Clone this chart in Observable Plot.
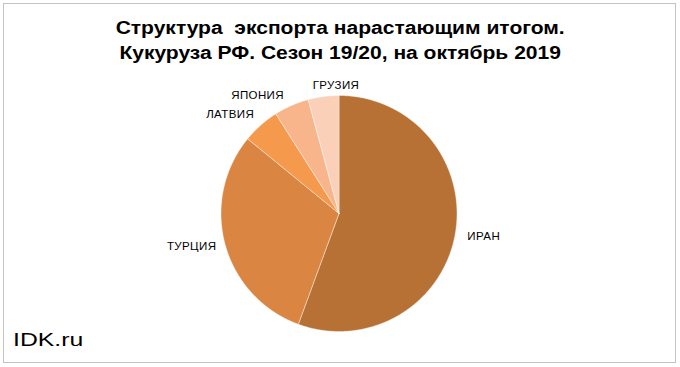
<!DOCTYPE html>
<html><head><meta charset="utf-8">
<script src="https://cdn.jsdelivr.net/npm/d3@7"></script>
<script src="https://cdn.jsdelivr.net/npm/@observablehq/plot@0.6"></script>
<style>
body{margin:0;background:#fff}
#frame{position:relative;width:680px;height:367px;overflow:hidden;font-family:"Liberation Sans",Arial,sans-serif;background:#fff}
#border{position:absolute;left:3px;top:3px;width:673px;height:360px;border:1.5px solid #c4c4c4;box-sizing:border-box}
#title{position:absolute;left:0;top:14.5px;width:680px;text-align:center;font-weight:bold;font-size:18.3px;line-height:25px;white-space:pre;color:#000;transform:scaleX(1.15);transform-origin:339px 0}
#chart{position:absolute;left:0;top:70px}
#brand{position:absolute;left:12.7px;top:331.4px;font-size:18.5px;line-height:18px;transform:scaleX(1.34);transform-origin:left top;color:#000}
</style>
</head><body>
<div id="frame">
  <div id="border"></div>
  <div id="title"></div>
  <div id="chart"></div>
  <div id="brand">IDK.ru</div>
</div>
<script>
const titleLines = ["Структура  экспорта нарастающим итогом.", "Кукуруза РФ. Сезон 19/20, на октябрь 2019"];
const countries = ["ИРАН", "ТУРЦИЯ", "ЛАТВИЯ", "ЯПОНИЯ", "ГРУЗИЯ"];
const shares = [55.6, 30.3, 5.1, 4.8, 4.2];
const colors = ["#B87134", "#DA8541", "#F5994C", "#F8B58C", "#FBD0B8"];

// layout (not data)
const R = 118;
const labelR = 147;
const labelNudge = {"ИРАН": [0, -2.5], "ТУРЦИЯ": [-5.6, -5.6], "ЛАТВИЯ": [-11.3, 10.6], "ЯПОНИЯ": [-22.2, 16.7], "ГРУЗИЯ": [16.3, 17.7]};

document.getElementById("title").textContent = titleLines.join("\n");

const total = d3.sum(shares);
const slices = [];
const labels = [];
let acc = 0;
countries.forEach((name, i) => {
  const a0 = acc / total * 2 * Math.PI;
  acc += shares[i];
  const a1 = acc / total * 2 * Math.PI;
  const n = Math.max(2, Math.ceil((a1 - a0) / (Math.PI / 360)));
  slices.push({name, x: 0, y: 0});
  for (let k = 0; k <= n; k++) {
    const a = a0 + (a1 - a0) * k / n;
    slices.push({name, x: R * Math.sin(a), y: R * Math.cos(a)});
  }
  slices.push({name, x: 0, y: 0});
  const am = (a0 + a1) / 2;
  const [nx, ny] = labelNudge[name];
  labels.push({name, x: labelR * Math.sin(am) + nx, y: labelR * Math.cos(am) - ny});
});

const plot = Plot.plot({
  width: 680,
  height: 290,
  margin: 0,
  x: {domain: [-338.5, 341.5], axis: null},
  y: {domain: [-147, 143], axis: null},
  color: {domain: countries, range: colors},
  style: {fontFamily: '"Liberation Sans", Arial, sans-serif', background: "transparent"},
  marks: [
    Plot.line(slices, {x: "x", y: "y", z: "name", fill: "name", stroke: "#ffffff", strokeWidth: 0.6, strokeOpacity: 0.7}),
    Plot.text(labels, {x: "x", y: "y", text: "name", fontSize: 11.5, fill: "#000"})
  ]
});
d3.select(plot).selectAll("text").style("letter-spacing", "0.4px");
document.getElementById("chart").appendChild(plot);
</script>
</body></html>
